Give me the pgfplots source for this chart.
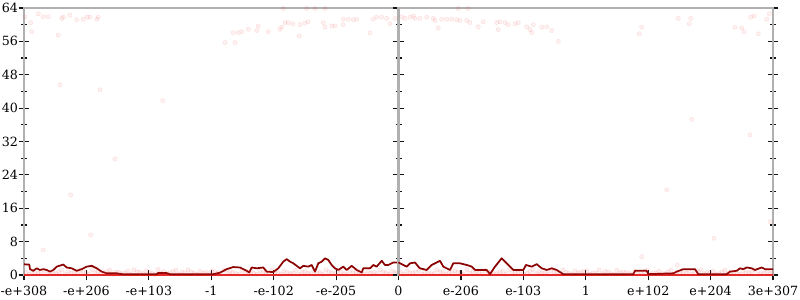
\documentclass[border=0pt]{standalone}
\usepackage{fontspec}
\setmainfont{DejaVu Serif}
\usepackage{pgfplots}
\pgfplotsset{compat=1.18}
\definecolor{axgray}{RGB}{176,176,176}
\definecolor{tickdark}{RGB}{20,20,20}
\definecolor{linered}{RGB}{139,0,0}
\definecolor{basered}{RGB}{228,40,40}
\definecolor{dotred}{RGB}{235,60,60}
\pgfplotsset{
  halfstyle/.style={
    scale only axis,
    width=280.875pt, height=200.25pt,
    ymin=0, ymax=64,
    ytick={0,8,...,64},
    minor y tick num=1,
    tick align=center,
    major tick length=8pt,
    minor tick length=4.5pt,
    every tick/.style={tickdark, line width=0.9pt},
    axis line style={axgray, line width=1.8pt},
    xtick pos=left,
    clip=false,
    /pgf/number format/assume math mode=true,
    tick label style={font=\fontsize{9.5}{11}\selectfont, black},
    xticklabel style={yshift=-1pt},
    yticklabel style={xshift=3pt},
  },
  dots/.style={only marks, mark=*, mark size=1.6pt,
    mark options={fill=dotred, draw=dotred, fill opacity=0.07, draw opacity=0.12}},
  band/.style={only marks, mark=*, mark size=1.7pt,
    mark options={fill=dotred, draw=dotred, fill opacity=0.09, draw opacity=0.1}},
}
\begin{document}
\begin{tikzpicture}
\begin{axis}[halfstyle, name=A,
  xmin=24, xmax=398.5,
  xtick={24,86.4,148.8,211.3,273.7,336.1},
  xticklabels={-e+308,-e+206,-e+103,-1,-e-102,-e-205},
  ytick pos=left,
]
% faint scattered points
\addplot[dots] coordinates {
(25,61.9) (30.7,60.5) (31.7,58.3) (38.3,62.6) (43.3,61.9) (48.3,61.9) (58.3,57.5)
(61.7,61.5) (63.3,61.8) (70,62.3) (76.7,61.2) (83.3,61.3) (87.3,61.8) (90,61.8)
(96.7,61.3) (98.3,61.8) (60,45.6) (100,44.4) (162.7,41.8) (115,27.8) (70.7,19.2)
(90.7,9.6) (43.3,6.0)
(225,55.7) (235,55.7) (233.3,58.1) (238.3,58.1) (241.7,58.3) (248.3,58.9) (256.7,58.6)
(258.3,59.7) (268.3,58.3) (280,58.9) (281.7,59.4) (285,60.5) (288.3,60.5) (292.7,60.2)
(299.3,57.3) (300,60.0) (305,60.4) (308.3,60.7) (323.3,60.5) (325,59.4) (331.7,59.7)
(335,59.7) (343.3,60.0) (343.3,61.3) (348.3,61.3) (353.3,61.2) (356.7,61.3) (370,58.0)
(373.3,61.3) (376.7,61.8) (381.7,61.8) (386.7,61.5) (390,60.2) (395,61.5)
(283.3,63.9) (306.7,63.9) (315,63.9) (325,63.9)
};
% faint points near zero
\addplot[band] coordinates {
(26,0.6) (32,0.9) (38,0.4) (44,1.1) (50,0.7) (56,0.3) (62,1.2) (68,0.8) (74,0.5)
(80,1.0) (86,0.6) (92,1.3) (98,0.9) (104,0.5) (110,1.1) (116,0.7) (122,0.3) (128,0.9)
(134,1.2) (140,0.6) (146,1.0) (152,0.4) (158,1.3) (164,0.8) (170,0.5) (176,1.1)
(182,0.7) (188,1.2) (194,0.4) (200,0.9) (206,0.6) (212,1.0) (218,0.5) (224,1.2)
(230,0.8) (236,0.3) (242,1.1) (248,0.7) (254,0.4) (260,1.0) (266,0.6) (272,1.2)
(278,0.5) (284,0.9) (290,0.3) (296,1.1) (302,0.7) (308,0.4) (314,1.0) (320,0.6)
(326,1.2) (332,0.5) (338,0.9) (344,0.3) (350,1.1) (356,0.7) (362,0.4) (368,1.0)
(374,0.6) (380,1.2) (386,0.5) (392,0.9) (397,0.4)
(29,0.2) (35,0.3) (41,0.6) (47,0.2) (53,0.5) (59,0.7) (65,0.2) (71,0.4) (77,0.3)
(83,0.8) (89,0.2) (95,0.5) (101,0.3) (107,0.8) (113,0.2) (119,0.6) (125,0.5)
(131,0.2) (137,0.7) (143,0.3) (149,0.6) (155,0.2) (161,0.5) (167,0.3) (173,0.8)
(179,0.2) (185,0.5) (191,0.7) (197,0.2) (203,0.4) (209,0.3) (215,0.7) (221,0.2)
(227,0.5) (233,0.6) (239,0.2) (245,0.4) (251,0.8) (257,0.2) (263,0.5) (269,0.3)
(275,0.7) (281,0.2) (287,0.6) (293,0.4) (299,0.2) (305,0.8) (311,0.3) (317,0.5)
(323,0.2) (329,0.7) (335,0.3) (341,0.6) (347,0.2) (353,0.5) (359,0.8) (365,0.2)
(371,0.4) (377,0.3) (383,0.7) (389,0.2) (395,0.6)
};
% baseline
\addplot[basered, line width=2pt] coordinates {(24,0) (398.5,0)};
% running line
\addplot[linered, line width=1.3pt, line join=round] coordinates {
(24,2.56) (29.3,2.5) (30,1.4) (33.3,1.0) (36.7,1.6) (40,1.2) (43.3,1.4) (46.7,1.2)
(50,0.8) (53.3,1.2) (56.7,2.0) (63.3,2.5) (66.7,1.8) (71.7,1.6) (76.7,1.0) (81.7,1.4)
(86.7,2.0) (91.7,2.2) (96.7,1.6) (101.7,0.8) (106.7,0.4) (116.7,0.4) (123.3,0.15)
(156.7,0.2) (158.3,0.5) (166.7,0.45) (170,0.2) (213.3,0.2) (220,0.55) (226.7,1.4)
(233.3,1.9) (240,1.8) (246.7,1.0) (249.3,0.6) (251.7,1.8) (256.7,1.6) (263.3,1.8)
(266.7,0.8) (273.3,0.7) (278.3,1.6) (283.3,3.2) (286.7,3.8) (290,3.2) (293.3,2.8)
(296.7,2.2) (300,1.6) (303.3,2.2) (308.3,2.0) (311.7,2.4) (315,0.8) (318.3,2.8)
(321.7,3.2) (325,4.0) (328.3,3.6) (331.7,2.4) (335,1.6) (338.3,1.2) (343.3,2.0)
(346.7,1.2) (351.7,2.2) (356.7,1.2) (361.7,0.6) (363.3,1.6) (370,1.6) (373.3,2.4)
(376.7,2.0) (381.7,3.4) (385,2.4) (388.3,2.4) (393.3,3.0) (398.5,3.0)
};
\end{axis}
\begin{axis}[halfstyle, name=B, at={(A.south east)}, anchor=south west,
  xmin=398.5, xmax=773,
  xtick={398.5,460.9,523.3,585.8,648.2,710.6,773},
  xticklabels={0,e-206,e-103,1,e+102,e+204,3e+307},
  ytick pos=both, yticklabels={},
]
\addplot[dots] coordinates {
(401.7,61.9) (405,61.5) (410,61.8) (413.3,62.1) (415,61.5) (420,61.5) (426.7,61.8)
(433.3,61.5) (435,61.0) (438.3,59.2) (441.7,61.3) (446.7,61.3) (451.7,61.3) (456.7,61.2)
(460,61.0) (466.7,61.0) (470,60.5) (478.3,59.5) (483.3,60.7) (496.7,60.5) (498.3,58.8)
(500,60.7) (505,60.5) (508.3,60.0) (515,60.2) (518.3,60.5) (526.7,59.5) (530,58.8)
(531.7,58.1) (533.3,60.0) (541.7,59.4) (546.7,59.5) (551.7,58.6) (558.3,56.0)
(458.3,63.9) (468.3,63.9)
(639.3,57.8) (641.7,59.4) (678.3,61.5) (689.3,60.2) (690.7,61.5) (735,59.4) (741.7,59.2)
(744,58.3) (750.7,61.8) (754,62.1) (758.3,57.8) (766.7,61.3) (769.3,62.6)
(691.7,37.3) (750,33.6) (666.7,20.4) (770,12.8) (714,8.8) (641.7,4.4) (677.3,2.4)
};
\addplot[band] coordinates {
(401,0.6) (407,0.9) (413,0.4) (419,1.1) (425,0.7) (431,0.3) (437,1.2) (443,0.8)
(449,0.5) (455,1.0) (461,0.6) (467,1.3) (473,0.9) (479,0.5) (485,1.1) (491,0.7)
(497,0.3) (503,0.9) (509,1.2) (515,0.6) (521,1.0) (527,0.4) (533,1.3) (539,0.8)
(545,0.5) (551,1.1) (557,0.7) (563,1.2) (569,0.4) (575,0.9) (581,0.6) (587,1.0)
(593,0.5) (599,1.2) (605,0.8) (611,0.3) (617,1.1) (623,0.7) (629,0.4) (635,1.0)
(641,0.6) (647,1.2) (653,0.5) (659,0.9) (665,0.3) (671,1.1) (677,0.7) (683,0.4)
(689,1.0) (695,0.6) (701,1.2) (707,0.5) (713,0.9) (719,0.3) (725,1.1) (731,0.7)
(737,0.4) (743,1.0) (749,0.6) (755,1.2) (761,0.5) (767,0.9) (772,0.4)
(404,0.2) (410,0.5) (416,0.7) (422,0.2) (428,0.4) (434,0.3) (440,0.7) (446,0.2)
(452,0.5) (458,0.6) (464,0.2) (470,0.4) (476,0.8) (482,0.2) (488,0.5) (494,0.3)
(500,0.7) (506,0.2) (512,0.6) (518,0.4) (524,0.2) (530,0.8) (536,0.3) (542,0.5)
(548,0.2) (554,0.7) (560,0.3) (566,0.6) (572,0.2) (578,0.5) (584,0.8) (590,0.2)
(596,0.4) (602,0.3) (608,0.7) (614,0.2) (620,0.5) (626,0.6) (632,0.2) (638,0.4)
(644,0.8) (650,0.2) (656,0.5) (662,0.3) (668,0.7) (674,0.2) (680,0.6) (686,0.4)
(692,0.2) (698,0.8) (704,0.3) (710,0.5) (716,0.2) (722,0.7) (728,0.3) (734,0.6)
(740,0.2) (746,0.5) (752,0.8) (758,0.2) (764,0.4) (770,0.3)
};
\addplot[basered, line width=2pt] coordinates {(398.5,0) (773,0)};
\addplot[linered, line width=1.3pt, line join=round] coordinates {
(398.5,3.0) (403.3,2.4) (406.7,2.0) (410,2.8) (415,3.0) (418.3,2.0) (420,1.6)
(426.7,1.2) (431.7,2.4) (436.7,3.0) (440,3.4) (443.3,2.0) (450,1.2) (453.3,2.8)
(460,2.8) (466.7,2.4) (471.7,2.0) (475,1.2) (480,1.2) (486.7,1.2) (490,0.2) (495,2.0)
(501.7,4.0) (506.7,2.8) (513.3,1.2) (523.3,1.2) (526,2.4) (531.7,2.0) (536.7,2.6)
(541.7,1.6) (546.7,1.2) (551.7,1.6) (556.7,1.2) (563.3,0.2) (573.3,0.2) (633.3,0.2)
(635,1.0) (646.7,1.0) (648.3,0.2) (673.3,0.4) (676.7,0.8) (683.3,1.4) (695,1.4)
(698.3,0.2) (726.7,0.2) (730,0.8) (736.7,1.0) (740,1.6) (743.3,1.4) (746.7,1.8)
(751.7,1.6) (755,1.2) (761.7,1.8) (765,1.4) (773,1.4)
};
\end{axis}
\pgfresetboundingbox
\path[use as bounding box] ([shift={(-18pt,-18.75pt)}]A.south west) rectangle ([shift={(20.25pt,6pt)}]B.north east);
\end{tikzpicture}
\end{document}
